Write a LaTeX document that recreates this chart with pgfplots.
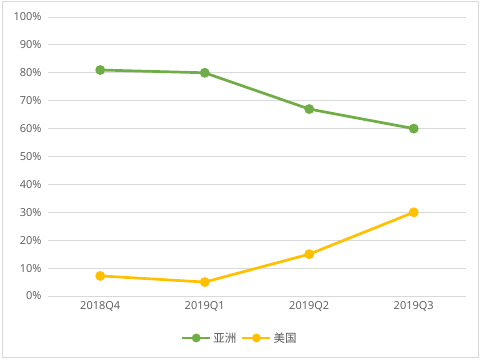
\documentclass[border=0pt]{standalone}
\usepackage{pgfplots}
\pgfplotsset{compat=1.18}
\usepackage{fontspec}
\setmainfont{Open Sans}
\newfontfamily\cjk{Noto Sans CJK SC}
\definecolor{asia}{HTML}{70AD47}
\definecolor{usa}{HTML}{FFC000}
\definecolor{txt}{HTML}{595959}
\definecolor{gridc}{HTML}{D9D9D9}
\begin{document}
\begin{tikzpicture}[x=1pt,y=1pt]
\path[use as bounding box] (0,0) rectangle (481,363);
\draw[gridc, line width=1pt] (2,5) rectangle (478,361);
\begin{axis}[
  at={(48pt,67pt)}, anchor=south west,
  scale only axis, width=418pt, height=279pt,
  xmin=-0.5, xmax=3.5, ymin=0, ymax=100,
  xtick={0,1,2,3},
  xticklabels={2018Q4,2019Q1,2019Q2,2019Q3},
  ytick={0,10,...,100},
  /pgf/number format/assume math mode=true,
  yticklabel={\pgfmathprintnumber{\tick}\%},
  ticklabel style={font=\fontsize{11}{13}\selectfont, text=txt},
  yticklabel style={xshift=-3pt},
  xticklabel style={yshift=-2pt},
  axis line style={draw=none},
  tick style={draw=none},
  ymajorgrids,
  grid style={gridc, line width=0.9pt},
  legend style={at={(0.459,-0.1505)}, anchor=center, draw=none, fill=none,
    legend columns=-1, font=\cjk\fontsize{11.5}{13}\selectfont, text=txt,
    /tikz/every even column/.append style={column sep=3pt}},
  legend image code/.code={
    \draw[line width=2.2pt] (0pt,0pt) -- (28pt,0pt);
    \fill (14pt,0pt) circle (3pt);
  },
]
\addplot[asia, line width=2.7pt, mark=*, mark size=3.5pt, mark options={fill=asia, draw=asia}]
  coordinates {(0,81) (1,80) (2,67) (3,60)};
\addlegendentry{亚洲}
\addplot[usa, line width=2.7pt, mark=*, mark size=3.5pt, mark options={fill=usa, draw=usa}]
  coordinates {(0,7.2) (1,5) (2,15) (3,30)};
\addlegendentry{美国}
\end{axis}
\end{tikzpicture}
\end{document}
